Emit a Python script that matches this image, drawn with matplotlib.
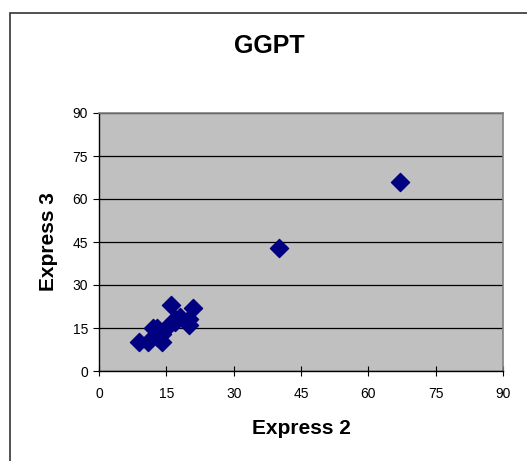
import matplotlib
matplotlib.use("Agg")
import matplotlib.pyplot as plt
from matplotlib.patches import Rectangle

plt.rcParams['font.family'] = ['Liberation Sans', 'DejaVu Sans']

express2 = [9, 11, 12, 13, 13, 14, 14, 15, 16, 17, 17, 18, 20, 20, 21, 40, 67]
express3 = [10, 10, 15, 12, 15, 10, 13, 15, 23, 18, 17, 19, 16, 18, 22, 43, 66]
ticks = [0, 15, 30, 45, 60, 75, 90]

W, H = 527, 461
fig = plt.figure(figsize=(W / 100, H / 100), dpi=100)
fig.patches.append(Rectangle((10 / W, -0.1), 1.2, 1 - 13 / H + 0.1,
                             transform=fig.transFigure, fill=False,
                             edgecolor='#333333', linewidth=1.2))

ax = fig.add_axes([99 / W, (H - 371) / H, (503 - 99) / W, (371 - 113) / H])
ax.set_facecolor('#C0C0C0')
ax.scatter(express2, express3, marker='D', s=85, color='#000080',
           edgecolors='#000080', zorder=3)
ax.set_xlim(0, 90)
ax.set_ylim(0, 90)
ax.set_xticks(ticks)
ax.set_yticks(ticks)
ax.yaxis.grid(True, color='black', linewidth=0.9)
ax.set_axisbelow(True)
for s in ['top', 'right']:
    ax.spines[s].set_color('#808080')
    ax.spines[s].set_linewidth(1.2)
for s in ['left', 'bottom']:
    ax.spines[s].set_color('black')
    ax.spines[s].set_linewidth(1.0)
ax.tick_params(axis='x', direction='inout', length=7, labelsize=10, pad=8)
ax.tick_params(axis='y', direction='out', length=4, labelsize=10, pad=4)
ax.set_xlabel('Express 2', fontsize=15, fontweight='bold', labelpad=13)
ax.set_ylabel('Express 3', fontsize=15, fontweight='bold', labelpad=10)
fig.text(269 / W, 1 - 46 / H, 'GGPT', fontsize=18, fontweight='bold',
         ha='center', va='center')

fig.savefig('out.png', dpi=100)
